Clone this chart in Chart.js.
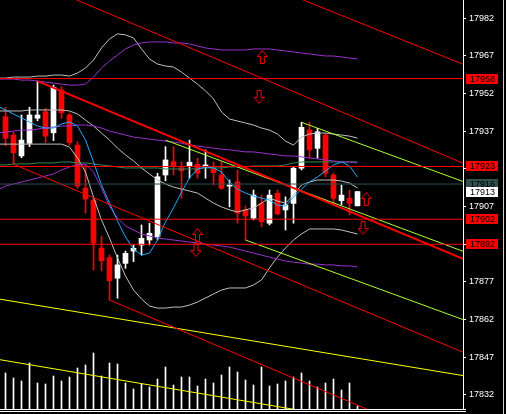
<!DOCTYPE html>
<html>
<head>
<meta charset="utf-8">
<script src="https://cdn.jsdelivr.net/npm/chart.js@4.4.1/dist/chart.umd.min.js"></script>
<style>
  html, body { margin: 0; padding: 0; background: #000; }
  canvas { display: block; }
</style>
</head>
<body>
<canvas id="chart" width="506" height="414"></canvas>
<script>
// ===== CANDLES (bar 0 = leftmost visible) =====
const opens  = [17942.8, 17935.5, 17927.2, 17932.2, 17942.2, 17944.8, 17936.4, 17953.5, 17943.5, 17931.5,
                17914.3, 17909.6, 17890.5, 17886.7, 17878.5, 17884.4, 17889.3, 17891.7, 17893.7, 17895.0,
                17919.6, 17924.9, 17922.5, 17922.9, 17923.9, 17923.2, 17922.5, 17919.6, 17915.2, 17916.9,
                17905.7, 17902.4, 17908.3, 17900.4, 17912.3, 17905.7, 17908.3, 17922.3, 17937.5, 17930.2,
                17935.5, 17919.6, 17909.4, 17910.3, 17907.3];
const highs  = [17946.6, 17936.6, 17943.5, 17946.6, 17957.0, 17946.2, 17955.4, 17954.8, 17944.3, 17932.9,
                17923.6, 17910.4, 17895.3, 17887.7, 17887.7, 17889.3, 17891.7, 17899.7, 17900.4, 17920.3,
                17930.9, 17930.9, 17924.9, 17933.5, 17926.3, 17929.6, 17924.8, 17924.9, 17917.6, 17921.6,
                17907.3, 17913.6, 17911.6, 17913.6, 17913.6, 17910.9, 17922.9, 17940.6, 17940.6, 17938.2,
                17936.2, 17920.3, 17915.6, 17913.6, 17913.0];
const lows   = [17931.3, 17923.9, 17926.5, 17930.9, 17941.2, 17932.5, 17933.3, 17942.2, 17931.5, 17914.3,
                17904.4, 17881.8, 17881.4, 17869.8, 17870.5, 17882.4, 17885.1, 17887.7, 17891.7, 17893.7,
                17917.3, 17919.6, 17910.3, 17918.3, 17918.3, 17918.3, 17915.6, 17913.9, 17906.9, 17900.4,
                17893.7, 17901.7, 17899.0, 17899.7, 17903.7, 17897.7, 17900.4, 17921.6, 17926.3, 17926.3,
                17918.9, 17908.3, 17907.7, 17903.7, 17907.3];
const closes = [17934.2, 17928.5, 17933.5, 17943.5, 17943.5, 17935.1, 17954.5, 17944.4, 17932.5, 17915.2,
                17910.0, 17892.4, 17885.4, 17877.5, 17883.8, 17888.4, 17890.4, 17894.4, 17896.4, 17918.9,
                17925.6, 17923.3, 17921.3, 17924.7, 17920.3, 17923.6, 17920.5, 17914.3, 17915.6, 17904.4,
                17903.3, 17911.6, 17901.0, 17911.6, 17904.1, 17907.7, 17922.3, 17938.6, 17929.6, 17936.8,
                17920.3, 17910.3, 17911.6, 17908.3, 17913.0];
const volumes = [36, 31, 28, 46, 26, 25, 33, 28, 32, 41, 44, 56, 33, 46, 45, 26, 20, 25, 22, 30,
                 42, 24, 32, 32, 23, 30, 26, 34, 42, 37, 29, 24, 42, 23, 25, 28, 32, 36, 28, 22,
                 26, 30, 19, 26, 3];

// ===== INDICATORS (first value is the bar before bar 0) =====
const bbUpper = [17958.2, 17958.2, 17958.6, 17958.6, 17958.6, 17959.0, 17959.0, 17959.4, 17959.4, 17959.0,
                 17960.2, 17962.2, 17965.4, 17970.2, 17973.8, 17975.8, 17975.4, 17974.2, 17969.8, 17965.8,
                 17963.8, 17963.0, 17962.6, 17960.6, 17958.2, 17955.8, 17953.1, 17949.9, 17944.7, 17941.9,
                 17941.1, 17940.3, 17939.5, 17938.3, 17937.5, 17935.9, 17933.1, 17931.5, 17934.7, 17935.9,
                 17936.3, 17936.3, 17935.9, 17935.5, 17935.1, 17934.3];
const bbMid   = [17945.1, 17945.1, 17945.1, 17945.1, 17945.5, 17945.5, 17945.5, 17945.5, 17945.5, 17945.1,
                 17943.9, 17941.5, 17939.1, 17936.3, 17933.5, 17930.3, 17927.6, 17925.2, 17922.4, 17920.0,
                 17917.6, 17916.0, 17914.8, 17914.0, 17913.2, 17912.4, 17910.4, 17908.4, 17906.9, 17905.7,
                 17904.9, 17905.7, 17906.5, 17908.4, 17910.4, 17909.2, 17908.4, 17911.6, 17915.6, 17916.8,
                 17917.6, 17917.6, 17917.6, 17917.2, 17916.4, 17914.4];
const bbLower = [17931.9, 17931.9, 17931.9, 17931.9, 17931.9, 17931.9, 17931.9, 17931.9, 17931.9, 17930.7,
                 17926.4, 17920.8, 17910.8, 17901.7, 17894.5, 17886.5, 17879.4, 17873.8, 17870.2, 17867.4,
                 17866.6, 17866.6, 17867.0, 17867.0, 17867.8, 17869.0, 17870.6, 17872.2, 17873.8, 17874.6,
                 17874.6, 17874.6, 17875.8, 17877.8, 17882.6, 17886.9, 17890.5, 17893.7, 17896.1, 17898.1,
                 17898.1, 17898.1, 17898.1, 17897.7, 17896.9, 17896.1];
const bb2Upper = [17957.8, 17957.8, 17957.8, 17957.4, 17957.4, 17957.0, 17956.6, 17956.2, 17955.8, 17955.4,
                  17955.4, 17955.8, 17958.6, 17962.2, 17965.0, 17967.4, 17969.8, 17971.4, 17972.2, 17972.6,
                  17972.6, 17972.6, 17972.2, 17972.2, 17971.8, 17971.0, 17970.2, 17969.8, 17969.4, 17969.4,
                  17969.4, 17969.4, 17969.8, 17969.8, 17969.8, 17969.4, 17969.0, 17968.6, 17968.2, 17967.8,
                  17967.4, 17967.0, 17967.0, 17966.6, 17966.2, 17965.8];
const bb2Mid   = [17936.3, 17936.7, 17937.1, 17937.5, 17937.5, 17937.9, 17938.3, 17938.7, 17939.1, 17939.1,
                  17939.5, 17939.5, 17939.1, 17938.3, 17937.1, 17936.3, 17935.5, 17934.7, 17934.3, 17933.9,
                  17933.5, 17933.1, 17932.7, 17932.3, 17931.5, 17931.1, 17930.7, 17930.3, 17929.9, 17929.6,
                  17929.2, 17928.8, 17928.8, 17928.4, 17928.0, 17927.6, 17927.2, 17927.2, 17926.8, 17926.4,
                  17926.0, 17925.6, 17925.2, 17924.8, 17924.8, 17924.4];
const bb2Lower = [17913.6, 17915.2, 17916.0, 17916.8, 17917.6, 17918.4, 17919.2, 17920.0, 17921.6, 17922.8,
                  17923.6, 17924.0, 17920.8, 17914.4, 17907.2, 17902.5, 17899.3, 17897.7, 17896.1, 17895.3,
                  17894.5, 17894.1, 17893.7, 17893.3, 17892.9, 17892.5, 17892.1, 17891.7, 17891.3, 17890.9,
                  17890.1, 17889.3, 17888.5, 17887.7, 17886.9, 17886.1, 17885.3, 17884.9, 17884.5, 17884.1,
                  17884.1, 17883.8, 17883.8, 17883.4, 17883.4, 17883.0];
const maFast = [17947.1, 17945.5, 17943.9, 17942.3, 17940.7, 17939.1, 17938.3, 17938.3, 17939.9, 17940.7,
                17939.1, 17933.5, 17924.8, 17915.6, 17908.4, 17901.3, 17894.9, 17890.1, 17887.7, 17888.5,
                17893.7, 17900.9, 17906.5, 17912.8, 17918.4, 17922.0, 17922.8, 17922.4, 17920.8, 17916.8,
                17914.0, 17912.4, 17911.2, 17910.4, 17909.6, 17907.6, 17907.2, 17910.8, 17914.0, 17916.8,
                17918.8, 17921.2, 17923.6, 17924.8, 17923.2, 17918.8];
const maSlow = [17923.6, 17923.6, 17924.0, 17924.0, 17924.0, 17924.4, 17924.4, 17924.4, 17924.8, 17924.8,
                17924.4, 17924.4, 17924.0, 17923.6, 17923.2, 17922.8, 17922.4, 17922.4, 17922.4, 17922.4,
                17922.4, 17922.0, 17922.0, 17922.0, 17922.0, 17922.0, 17922.4, 17922.4, 17922.4, 17922.8,
                17922.8, 17922.8, 17923.2, 17923.2, 17923.2, 17923.2, 17923.6, 17924.4, 17924.8, 17924.8,
                17924.8, 17924.8, 17924.8, 17924.8, 17924.8, 17924.8];

// ===== OBJECTS =====
// trend lines: [bar1, price1, bar2, price2]
const trendRed = [
  [8.9, 17989.3, 57.2, 17924.3],
  [37.2, 17989.3, 57.2, 17963.7],
  [1, 17923.9, 57.2, 17849.0],
  [13, 17869.8, 57.2, 17810.1]
];
const trendRedMain = [4, 17957.0, 57.2, 17886.2];
const trendLime = [
  [20, 17933.5, 57.2, 17889.2],
  [37, 17940.6, 57.2, 17917.0],
  [30, 17893.7, 57.2, 17862.0]
];
const trendYellow = [
  [-1, 17870.3, 57.2, 17839.7],
  [-1, 17846.2, 57.2, 17814.9]
];
const levels = [17958, 17923, 17916, 17902, 17892];
const bid = 17913;
const arrowsUp = [[32.1, 17966.6], [24.0, 17895.7], [45.1, 17910.0]];
const arrowsDown = [[31.7, 17950.7], [23.8, 17889.7], [44.7, 17898.5]];
const tickValues = [17982, 17967, 17952, 17937, 17922, 17907, 17892, 17877, 17862, 17847, 17832];

// ===== STYLE =====
const RED = '#ff0000', WHITE = '#ffffff';
const levelColors = [RED, RED, '#2f4f4f', RED, RED];
const FONT = '"Liberation Sans", Arial, sans-serif';
const X_MIN = -0.6875, X_MAX = 57.1875;
const Y_MIN = 17826.4, Y_MAX = 17989.3;

const series = arr => arr.map((v, k) => ({ x: k - 1, y: v }));
const seg = ([x1, y1, x2, y2]) => [{ x: x1, y: y1 }, { x: x2, y: y2 }];
const line = (data, color, width = 1) => ({
  type: 'line', data, borderColor: color, borderWidth: width,
  pointRadius: 0, fill: false, tension: 0
});

function makeArrow(up) {
  const c = document.createElement('canvas');
  c.width = 11; c.height = 14;
  const g = c.getContext('2d');
  g.strokeStyle = RED; g.lineWidth = 1;
  const pts = [[5.5, 0.5], [10.5, 6.5], [7.5, 6.5], [7.5, 13.5], [3.5, 13.5], [3.5, 6.5], [0.5, 6.5]];
  g.beginPath();
  pts.forEach(([x, y], k) => {
    const yy = up ? y : 14 - y;
    k ? g.lineTo(x, yy) : g.moveTo(x, yy);
  });
  g.closePath();
  g.stroke();
  return c;
}

const candleColor = opens.map((o, i) => closes[i] >= o ? WHITE : RED);

// datasets listed bottom -> top
const datasets = [
  { type: 'bar', yAxisID: 'vol', data: volumes.map((v, i) => ({ x: i, y: v })),
    backgroundColor: WHITE, barThickness: 1, grouped: false },
  { type: 'bar', data: lows.map((l, i) => ({ x: i, y: [l, highs[i]] })),
    backgroundColor: candleColor, barThickness: 1, grouped: false },
  { type: 'bar', data: opens.map((o, i) => ({ x: i, y: [o, closes[i]] })),
    backgroundColor: candleColor, barThickness: 5, minBarLength: 1, grouped: false },
  line(series(bbUpper), '#c0c0c0'),
  line(series(bbMid), '#c0c0c0'),
  line(series(bbLower), '#c0c0c0'),
  line(series(maSlow), '#2e8b57'),
  line(series(bb2Upper), '#9932cc'),
  line(series(bb2Mid), '#9932cc'),
  line(series(bb2Lower), '#9932cc'),
  line(series(maFast), '#1eaaff'),
  ...trendYellow.map(t => line(seg(t), '#ffff00')),
  ...trendLime.map(t => line(seg(t), '#adff2f')),
  ...trendRed.map(t => line(seg(t), RED)),
  line(seg(trendRedMain), RED, 2),
  ...levels.map((v, k) => line([{ x: -1, y: v }, { x: 58, y: v }], levelColors[k])),
  { type: 'scatter', data: arrowsUp.map(([x, y]) => ({ x, y })), pointStyle: makeArrow(true), pointRadius: 6 },
  { type: 'scatter', data: arrowsDown.map(([x, y]) => ({ x, y })), pointStyle: makeArrow(false), pointRadius: 6 }
];
datasets.forEach((d, k) => { d.order = datasets.length - k; });

// price boxes on the axis + frame lines
const priceBoxes = {
  id: 'priceBoxes',
  afterDraw(chart) {
    const { ctx, chartArea, scales: { y } } = chart;
    ctx.save();
    ctx.strokeStyle = WHITE;
    ctx.lineWidth = 1;
    [0.5, 2.5].forEach(d => {
      ctx.beginPath();
      ctx.moveTo(0, chartArea.bottom + d);
      ctx.lineTo(chartArea.right + 3, chartArea.bottom + d);
      ctx.stroke();
    });
    ctx.strokeStyle = '#d0d0d0';
    ctx.beginPath();
    ctx.moveTo(503.5, 0);
    ctx.lineTo(503.5, chart.height);
    ctx.stroke();

    const boxes = levels.map((v, k) => ({ v, bg: levelColors[k] }))
      .concat([{ v: bid, bg: WHITE }]);
    ctx.font = '9px ' + FONT;
    ctx.textBaseline = 'middle';
    boxes.forEach(b => {
      const py = Math.round(y.getPixelForValue(b.v));
      ctx.fillStyle = b.bg;
      ctx.fillRect(chartArea.right + 3, py - 5, 32, 10);
      ctx.fillStyle = '#000';
      ctx.fillText(String(b.v), chartArea.right + 7, py + 0.5);
    });
    ctx.restore();
  }
};

new Chart(document.getElementById('chart'), {
  type: 'bar',
  data: { datasets },
  options: {
    responsive: false,
    animation: false,
    devicePixelRatio: 1,
    layout: { autoPadding: false, padding: { left: 0, right: 0, top: 0, bottom: 5 } },
    plugins: { legend: { display: false }, tooltip: { enabled: false } },
    scales: {
      x: { type: 'linear', min: X_MIN, max: X_MAX, offset: false, display: false },
      y: {
        position: 'right', min: Y_MIN, max: Y_MAX,
        afterBuildTicks: s => { s.ticks = tickValues.map(v => ({ value: v })); },
        afterFit: s => {
          s.width = 43; s.paddingTop = 0; s.paddingBottom = 0;
          s.getPadding = () => ({ left: 0, top: 0, right: 0, bottom: 0 });
        },
        grid: { drawOnChartArea: false, color: WHITE, tickLength: 3 },
        border: { color: WHITE },
        ticks: { color: WHITE, autoSkip: false, padding: 3, crossAlign: 'near',
                 font: { family: FONT, size: 9 }, callback: v => String(v) }
      },
      vol: { display: false, min: 0, max: 409 }
    }
  },
  plugins: [priceBoxes]
});
</script>
</body>
</html>
